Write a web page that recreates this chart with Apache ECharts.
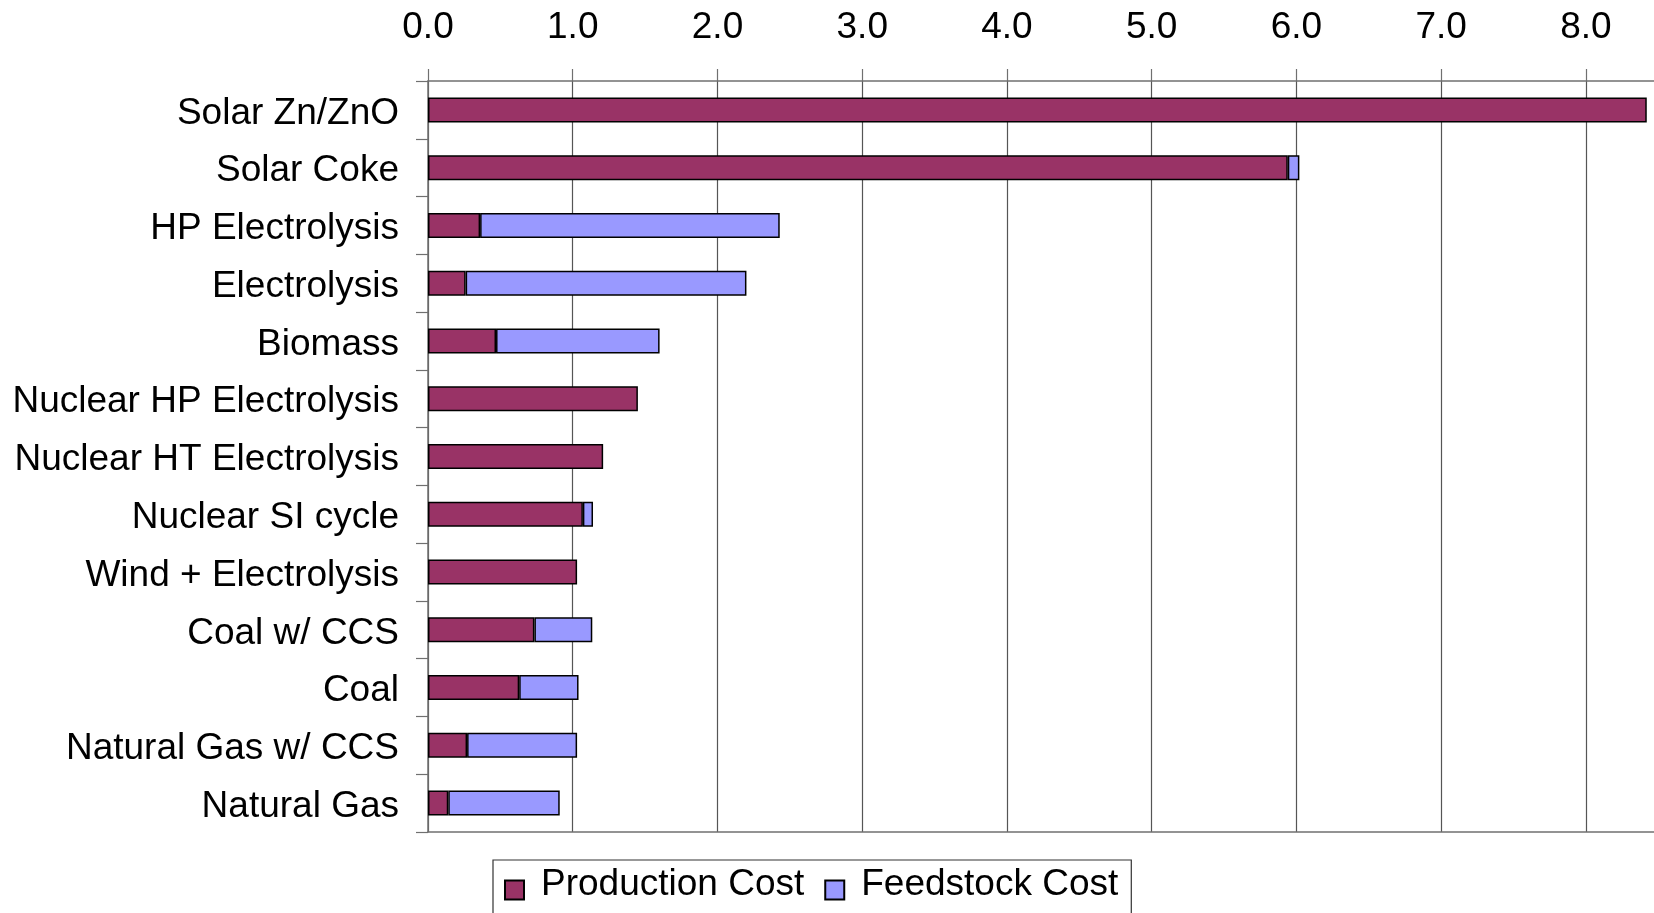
<!DOCTYPE html>
<html>
<head>
<meta charset="utf-8">
<title>Hydrogen production cost by pathway</title>
<script src="https://cdn.jsdelivr.net/npm/echarts@6/dist/echarts.min.js"></script>
<style>
  html, body { margin: 0; padding: 0; background: #ffffff; }
  #chart { width: 1654px; height: 913px; }
</style>
</head>
<body>
<div id="chart"></div>
<script>
// Production pathways, top to bottom
const categories = [
  'Solar Zn/ZnO',
  'Solar Coke',
  'HP Electrolysis',
  'Electrolysis',
  'Biomass',
  'Nuclear HP Electrolysis',
  'Nuclear HT Electrolysis',
  'Nuclear SI cycle',
  'Wind + Electrolysis',
  'Coal w/ CCS',
  'Coal',
  'Natural Gas w/ CCS',
  'Natural Gas'
];

// Cost components (stacked)
const productionCost = [8.42, 5.94, 0.36, 0.26, 0.47, 1.45, 1.21, 1.07, 1.03, 0.735, 0.63, 0.27, 0.14];
const feedstockCost  = [null, 0.08, 2.07, 1.94, 1.13, null, null, 0.07, null, 0.40, 0.41, 0.76, 0.77];

// Value axis range and step (the plot is cut just past 8.4)
const axisMin = 0;
const axisMax = 8.47;
const axisStep = 1;

const FONT = '"Liberation Sans", Arial, Helvetica, sans-serif';
const LINE = '#707070';

// Legend swatch: a square sitting in the lower part of its slot
const SWATCH = 'path://M0,0M0,11L19,11L19,30L0,30Z';

const chart = echarts.init(document.getElementById('chart'), null, { renderer: 'canvas' });

chart.setOption({
  animation: false,
  backgroundColor: '#ffffff',
  textStyle: { fontFamily: FONT },
  grid: { left: 428, right: 0, top: 81, bottom: 81, containLabel: false },
  xAxis: [
    {
      type: 'value',
      position: 'top',
      min: axisMin,
      max: axisMax,
      interval: axisStep,
      axisLine: { show: true, lineStyle: { color: LINE, width: 1.5 } },
      axisTick: { show: true, length: 12, lineStyle: { color: LINE, width: 1.2 } },
      axisLabel: {
        show: true,
        margin: 35,
        fontSize: 37,
        fontFamily: FONT,
        color: '#000000',
        showMaxLabel: false,
        formatter: v => v.toFixed(1)
      },
      splitLine: { show: true, showMaxLine: false, lineStyle: { color: '#555555', width: 1.2 } }
    },
    {
      type: 'value',
      position: 'bottom',
      min: axisMin,
      max: axisMax,
      interval: axisStep,
      axisLine: { show: true, onZero: false, lineStyle: { color: LINE, width: 1.5 } },
      axisTick: { show: false },
      axisLabel: { show: false },
      splitLine: { show: false }
    }
  ],
  yAxis: {
    type: 'category',
    data: categories,
    inverse: true,
    axisLine: { show: true, lineStyle: { color: LINE, width: 1.5 } },
    axisTick: { show: true, length: 12, lineStyle: { color: LINE, width: 1.2 } },
    axisLabel: {
      interval: 0,
      margin: 29,
      fontSize: 37,
      fontFamily: FONT,
      color: '#000000',
      verticalAlign: 'top',
      lineHeight: 7
    },
    splitLine: { show: false }
  },
  legend: {
    left: 493,
    top: 860,
    orient: 'horizontal',
    padding: [6, 13, 40, 11],
    itemGap: 20,
    itemWidth: 19,
    itemHeight: 30,
    borderColor: '#333333',
    borderWidth: 1.2,
    backgroundColor: '#ffffff',
    icon: SWATCH,
    textStyle: {
      fontSize: 37,
      fontFamily: FONT,
      color: '#000000',
      padding: [0, 0, 0, 12]
    },
    data: ['Production Cost', 'Feedstock Cost']
  },
  series: [
    {
      name: 'Production Cost',
      type: 'bar',
      stack: 'cost',
      xAxisIndex: 0,
      barWidth: 25,
      data: productionCost,
      itemStyle: { color: '#993366', borderColor: '#000000', borderWidth: 1.5 }
    },
    {
      name: 'Feedstock Cost',
      type: 'bar',
      stack: 'cost',
      xAxisIndex: 0,
      barWidth: 25,
      data: feedstockCost,
      itemStyle: { color: '#9999FF', borderColor: '#000000', borderWidth: 1.5 }
    }
  ]
});
</script>
</body>
</html>
